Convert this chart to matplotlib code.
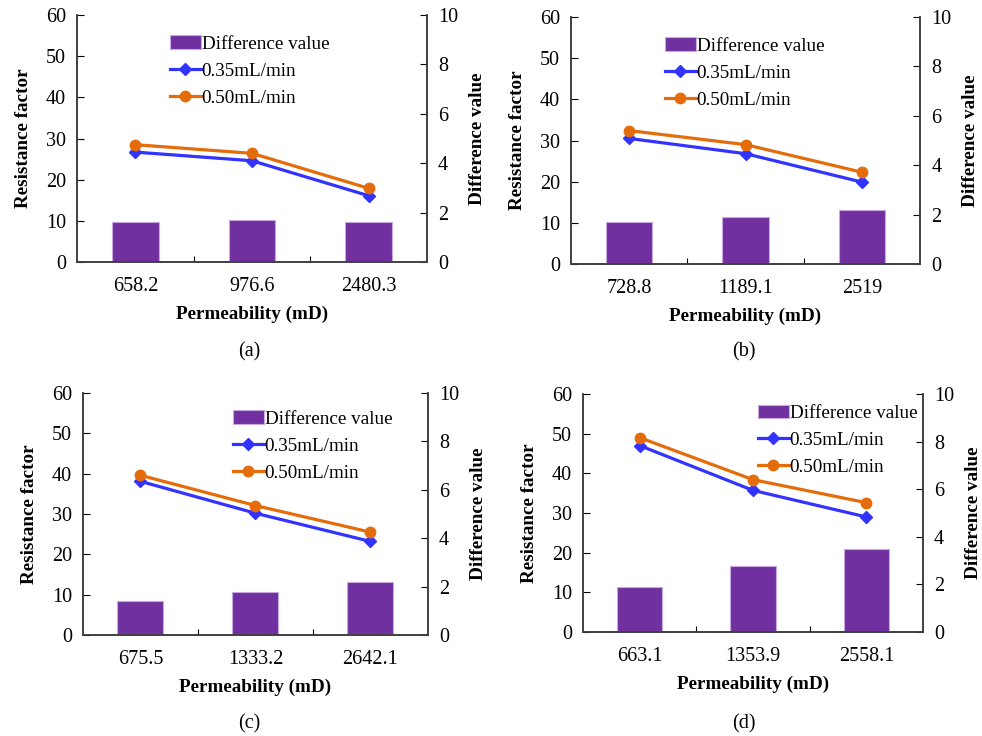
import matplotlib.pyplot as plt
import numpy as np

plt.rcParams['font.family'] = ['Liberation Serif', 'DejaVu Serif']

# permeability categories for each panel
perm_a = ['658.2', '976.6', '2480.3']
perm_b = ['728.8', '1189.1', '2519']
perm_c = ['675.5', '1333.2', '2642.1']
perm_d = ['663.1', '1353.9', '2558.1']

# resistance factor at 0.35 mL/min
rf035_a = [26.7, 24.6, 16.1]
rf035_b = [30.5, 26.8, 19.9]
rf035_c = [38.1, 30.2, 23.2]
rf035_d = [47.0, 35.7, 29.0]

# resistance factor at 0.50 mL/min
rf050_a = [28.5, 26.4, 17.9]
rf050_b = [32.4, 29.0, 22.3]
rf050_c = [39.6, 32.1, 25.5]
rf050_d = [49.0, 38.4, 32.6]

# difference value (right axis)
diff_a = [1.62, 1.70, 1.62]
diff_b = [1.69, 1.89, 2.18]
diff_c = [1.42, 1.78, 2.19]
diff_d = [1.89, 2.78, 3.48]

panels = [
    ('(a)', perm_a, rf035_a, rf050_a, diff_a),
    ('(b)', perm_b, rf035_b, rf050_b, diff_b),
    ('(c)', perm_c, rf035_c, rf050_c, diff_c),
    ('(d)', perm_d, rf035_d, rf050_d, diff_d),
]

# axes rectangles in figure fraction
rects = [
    [0.0784, 0.644, 0.3564, 0.3356],
    [0.5815, 0.6413, 0.3554, 0.3356],
    [0.0845, 0.1372, 0.3513, 0.3288],
    [0.5937, 0.1413, 0.3462, 0.3234],
]
legend_pos = [(0.266, 0.918), (0.269, 0.918), (0.435, 0.928), (0.515, 0.955)]
label_pos = [(0.254, 0.522), (0.758, 0.522), (0.254, 0.017), (0.758, 0.017)]

purple = '#7030A0'
blue = '#3333FF'
orange = '#E46C0A'
fs_tick = 14.5
fs = 13.8

fig = plt.figure(figsize=(9.82, 7.36), dpi=100)

for i, (tag, cats, s1, s2, d) in enumerate(panels):
    ax = fig.add_axes(rects[i])
    ax2 = ax.twinx()
    x = np.arange(len(cats)) + 0.5

    bars = ax2.bar(x, d, width=0.4, color=purple, edgecolor='#C8A8E0', linewidth=0.8,
                   label='Difference value')
    l1, = ax.plot(x, s1, color=blue, marker='D', markersize=6, lw=2.3, label='0.35mL/min')
    l2, = ax.plot(x, s2, color=orange, marker='o', markersize=7.5, lw=2.3, label='0.50mL/min')

    ax.set_zorder(ax2.get_zorder() + 1)
    ax.patch.set_visible(False)

    ax.set_xlim(0, 3)
    ax.set_ylim(0, 60)
    ax2.set_ylim(0, 10)
    ax.set_yticks(np.arange(0, 61, 10))
    ax2.set_yticks(np.arange(0, 11, 2))
    ax.set_xticks([1, 2])
    ax.set_xticklabels([])
    ax.set_xticks(x, minor=True)
    ax.set_xticklabels(cats, minor=True, fontsize=fs_tick)
    ax.tick_params(axis='x', which='minor', length=0, pad=11)
    ax.tick_params(axis='x', which='major', direction='in', length=4)
    ax.tick_params(axis='y', direction='in', length=5, labelsize=fs_tick, pad=8)
    ax2.tick_params(axis='y', direction='in', length=5, labelsize=fs_tick, pad=8)

    for a in (ax, ax2):
        a.spines['top'].set_visible(False)
        for s in ('left', 'right', 'bottom'):
            a.spines[s].set_color('#404040')
            a.spines[s].set_linewidth(1.2)

    ax.set_xlabel('Permeability (mD)', fontsize=fs, fontweight='bold', labelpad=7)
    ax.set_ylabel('Resistance factor', fontsize=fs, fontweight='bold', labelpad=10)
    ax2.set_ylabel('Difference value', fontsize=fs, fontweight='bold', labelpad=8)

    ax.legend([bars, l1, l2], ['Difference value', '0.35mL/min', '0.50mL/min'],
              loc='upper left', bbox_to_anchor=legend_pos[i], frameon=False,
              fontsize=fs, borderpad=0, borderaxespad=0, handlelength=1.6,
              handletextpad=0.05, labelspacing=0.5)

    fig.text(label_pos[i][0], label_pos[i][1], tag, fontsize=14.5, ha='center', va='center')

fig.savefig('out.png', dpi=100)
